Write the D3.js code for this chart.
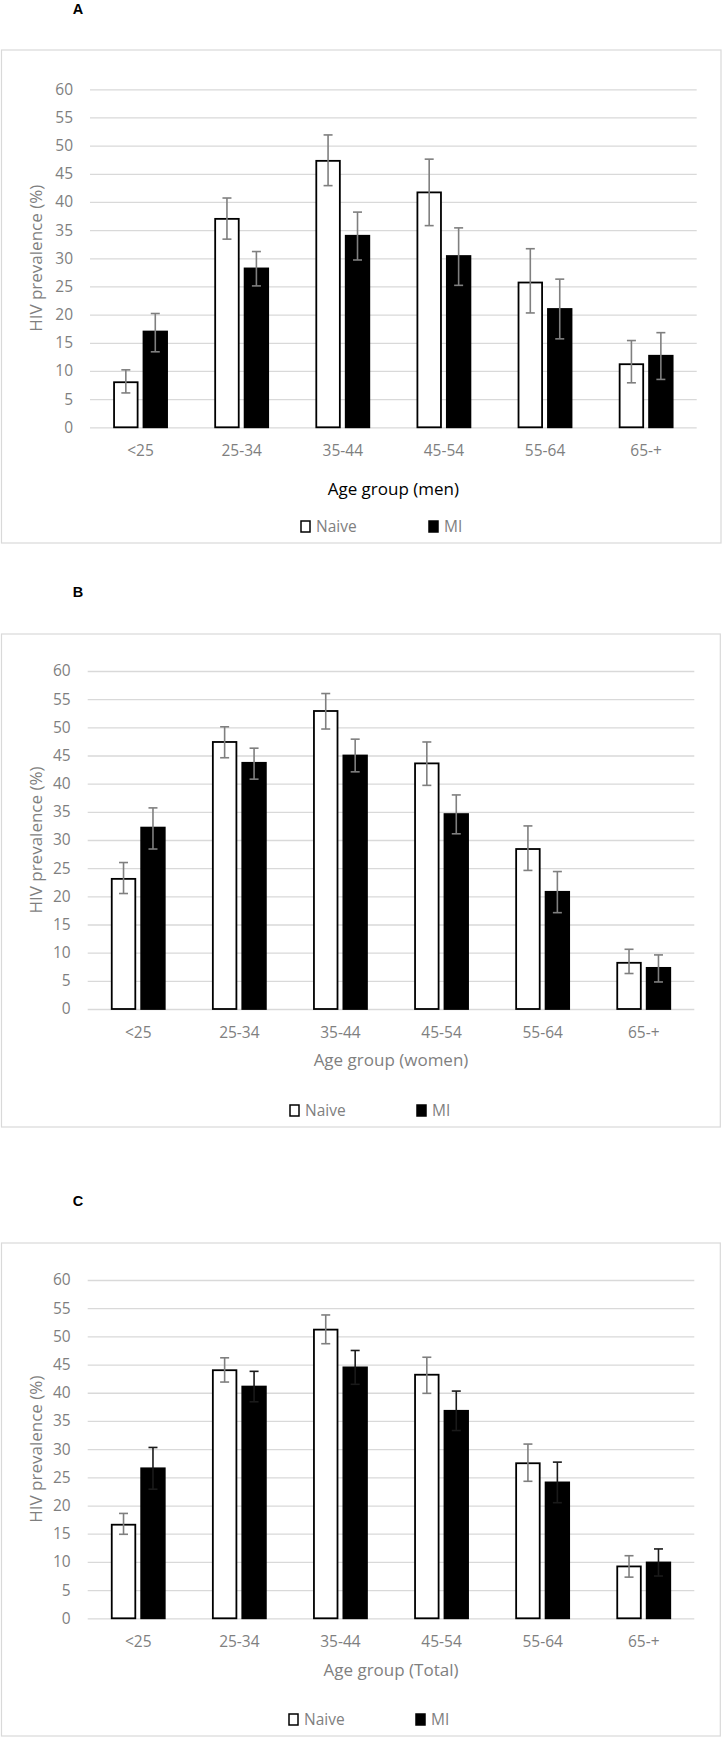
<!DOCTYPE html>
<html>
<head>
<meta charset="utf-8">
<script src="https://cdn.jsdelivr.net/npm/d3@7"></script>
<style>
  body { margin: 0; background: #fff; }
  svg { display: block; font-family: "Open Sans", sans-serif; }
</style>
</head>
<body>
<script>
// HIV prevalence by age group, naive vs MI, three panels (men / women / total)

let categories = ["<25", "25-34", "35-44", "45-54", "55-64", "65-+"];
let series = ["Naive", "MI"];
let yTicks = [0, 5, 10, 15, 20, 25, 30, 35, 40, 45, 50, 55, 60];

// Panel A - men
let menNaive = [8.0, 37.0, 47.3, 41.7, 25.7, 11.2];
let menNaiveCI = [[6.1, 10.2], [33.4, 40.7], [42.9, 51.9], [35.8, 47.6], [20.3, 31.7], [7.9, 15.4]];
let menMI = [17.0, 28.2, 34.0, 30.4, 21.0, 12.7];
let menMICI = [[13.4, 20.2], [25.1, 31.2], [29.7, 38.2], [25.2, 35.4], [15.7, 26.3], [8.5, 16.8]];

// Panel B - women
let womenNaive = [23.1, 47.4, 52.9, 43.6, 28.4, 8.2];
let womenNaiveCI = [[20.5, 26.0], [44.6, 50.1], [49.7, 56.0], [39.7, 47.4], [24.6, 32.5], [6.3, 10.6]];
let womenMI = [32.2, 43.7, 45.0, 34.6, 20.8, 7.3];
let womenMICI = [[28.4, 35.7], [40.8, 46.3], [42.1, 47.9], [31.1, 38.0], [17.1, 24.4], [4.8, 9.6]];

// Panel C - total
let totalNaive = [16.6, 44.0, 51.2, 43.2, 27.5, 9.2];
let totalNaiveCI = [[14.9, 18.6], [41.9, 46.2], [48.7, 53.8], [39.9, 46.3], [24.3, 30.9], [7.3, 11.1]];
let totalMI = [26.6, 41.1, 44.5, 36.8, 24.1, 9.9];
let totalMICI = [[22.9, 30.3], [38.4, 43.8], [41.5, 47.5], [33.3, 40.3], [20.5, 27.7], [7.5, 12.3]];

let svgWidth = 722;
let svgHeight = 1738;
let gray = "#7f7f7f";
let gridColor = "#d9d9d9";

let svg = d3.select("body")
            .append("svg")
            .attr("width", svgWidth)
            .attr("height", svgHeight);

let panels = [
    { letter: "A", title: "Age group (men)", titleColor: "#000",
      naive: menNaive, naiveCI: menNaiveCI, mi: menMI, miCI: menMICI, miErrColor: gray,
      letterY: 14, boxTop: 50, boxBottom: 543, boxRight: 721,
      x0: 90, x1: 696.7, yTop: 89.3, yZero: 427.3,
      titleY: 495, legendY: 532, legendNaiveX: 301, legendMIX: 429 },
    { letter: "B", title: "Age group (women)", titleColor: gray,
      naive: womenNaive, naiveCI: womenNaiveCI, mi: womenMI, miCI: womenMICI, miErrColor: gray,
      letterY: 597, boxTop: 634, boxBottom: 1127, boxRight: 720.3,
      x0: 87.7, x1: 694.3, yTop: 671, yZero: 1009,
      titleY: 1066, legendY: 1116, legendNaiveX: 290, legendMIX: 417 },
    { letter: "C", title: "Age group (Total)", titleColor: gray,
      naive: totalNaive, naiveCI: totalNaiveCI, mi: totalMI, miCI: totalMICI, miErrColor: "#1a1a1a",
      letterY: 1206, boxTop: 1243, boxBottom: 1736, boxRight: 720.3,
      x0: 87.7, x1: 694.3, yTop: 1280, yZero: 1618.3,
      titleY: 1676, legendY: 1725, legendNaiveX: 289, legendMIX: 416 }
];

panels.forEach(function(p) {

    // panel letter
    svg.append("text")
       .attr("x", 78)
       .attr("y", p.letterY)
       .attr("text-anchor", "middle")
       .attr("font-size", "14.5px")
       .attr("font-weight", "bold")
       .attr("font-family", "'Liberation Sans', Arial, sans-serif")
       .attr("fill", "#000")
       .text(p.letter);

    // chart frame
    svg.append("rect")
       .attr("x", 1.5)
       .attr("y", p.boxTop)
       .attr("width", p.boxRight - 1.5)
       .attr("height", p.boxBottom - p.boxTop)
       .attr("fill", "none")
       .attr("stroke", gridColor)
       .attr("stroke-width", 1.2);

    let chartGroup = svg.append("g")
                        .attr("transform", `translate(${p.x0}, 0)`);
    let width = p.x1 - p.x0;

    // scales
    let xScale = d3.scaleBand()
                   .domain(categories)
                   .range([0, width]);

    let xSub = d3.scaleBand()
                 .domain(series)
                 .range([-26.5, 26.5])
                 .paddingInner(0.2);

    let yScale = d3.scaleLinear()
                   .domain([0, 60])
                   .range([p.yZero, p.yTop]);

    // y axis with gridlines
    let leftAxis = d3.axisLeft(yScale)
                     .tickValues(yTicks)
                     .tickSize(-width)
                     .tickPadding(17);

    let yAxisGroup = chartGroup.append("g").call(leftAxis);
    yAxisGroup.select(".domain").remove();
    yAxisGroup.selectAll(".tick line")
              .attr("stroke", gridColor)
              .attr("stroke-width", 1.3);
    yAxisGroup.selectAll(".tick text")
              .attr("fill", gray)
              .attr("font-size", "15.5px")
              .attr("font-family", "'Open Sans', sans-serif");

    // x axis labels
    let bottomAxis = d3.axisBottom(xScale)
                       .tickSize(0)
                       .tickPadding(18);

    let xAxisGroup = chartGroup.append("g")
                               .attr("transform", `translate(0, ${p.yZero})`)
                               .call(bottomAxis);
    xAxisGroup.select(".domain").remove();
    xAxisGroup.selectAll(".tick text")
              .attr("fill", gray)
              .attr("font-size", "15.5px")
              .attr("font-family", "'Open Sans', sans-serif");

    // rows for bars
    let rows = [];
    categories.forEach(function(c, i) {
        rows.push({ cat: c, key: "Naive", value: p.naive[i], ci: p.naiveCI[i] });
        rows.push({ cat: c, key: "MI", value: p.mi[i], ci: p.miCI[i] });
    });

    let cx = d => xScale(d.cat) + xScale.bandwidth() / 2 + xSub(d.key);

    chartGroup.selectAll(".bar")
              .data(rows)
              .enter()
              .append("rect")
              .attr("class", "bar")
              .attr("x", d => cx(d))
              .attr("y", d => yScale(d.value))
              .attr("width", xSub.bandwidth())
              .attr("height", d => yScale(0) - yScale(d.value))
              .attr("fill", d => d.key === "Naive" ? "#fff" : "#000")
              .attr("stroke", "#000")
              .attr("stroke-width", 1.8);

    // error bars
    let errGroup = chartGroup.selectAll(".err")
                             .data(rows)
                             .enter()
                             .append("g")
                             .attr("class", "err")
                             .attr("stroke", d => d.key === "Naive" ? gray : p.miErrColor)
                             .attr("stroke-width", 1.6);

    let mid = d => cx(d) + xSub.bandwidth() / 2;

    errGroup.append("line")
            .attr("x1", mid).attr("x2", mid)
            .attr("y1", d => yScale(d.ci[0]))
            .attr("y2", d => yScale(d.ci[1]));
    errGroup.append("line")
            .attr("x1", d => mid(d) - 4.5).attr("x2", d => mid(d) + 4.5)
            .attr("y1", d => yScale(d.ci[1]))
            .attr("y2", d => yScale(d.ci[1]));
    errGroup.append("line")
            .attr("x1", d => mid(d) - 4.5).attr("x2", d => mid(d) + 4.5)
            .attr("y1", d => yScale(d.ci[0]))
            .attr("y2", d => yScale(d.ci[0]));

    // y axis title
    svg.append("text")
       .attr("transform", `translate(42, ${(p.yTop + p.yZero) / 2}) rotate(-90)`)
       .attr("text-anchor", "middle")
       .attr("font-size", "17px")
       .attr("fill", gray)
       .text("HIV prevalence (%)");

    // x axis title
    svg.append("text")
       .attr("x", (p.x0 + p.x1) / 2)
       .attr("y", p.titleY)
       .attr("text-anchor", "middle")
       .attr("font-size", "17px")
       .attr("fill", p.titleColor)
       .text(p.title);

    // legend
    let legendX = [p.legendNaiveX, p.legendMIX];
    series.forEach(function(s, i) {
        svg.append("rect")
           .attr("x", legendX[i])
           .attr("y", p.legendY - 11)
           .attr("width", 9)
           .attr("height", 11)
           .attr("fill", s === "Naive" ? "#fff" : "#000")
           .attr("stroke", "#000")
           .attr("stroke-width", 1.5);
        svg.append("text")
           .attr("x", legendX[i] + 15)
           .attr("y", p.legendY)
           .attr("font-size", "15.5px")
           .attr("fill", gray)
           .text(s);
    });
});
</script>
</body>
</html>
